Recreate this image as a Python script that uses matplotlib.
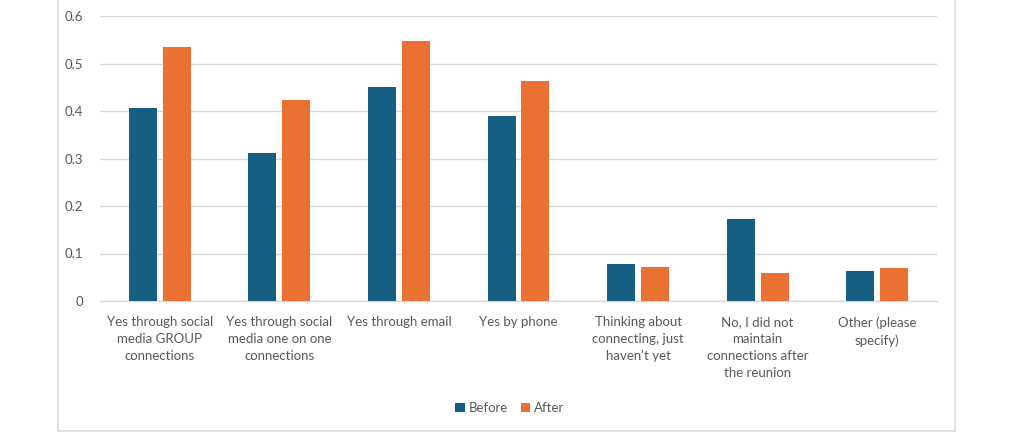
import matplotlib.pyplot as plt
from matplotlib.patches import Rectangle
import numpy as np

categories = [
    'Yes through social\nmedia GROUP\nconnections',
    'Yes through social\nmedia one on one\nconnections',
    'Yes through email',
    'Yes by phone',
    'Thinking about\nconnecting, just\nhaven\'t yet',
    'No, I did not\nmaintain\nconnections after\nthe reunion',
    'Other (please\nspecify)',
]
before = [0.407, 0.312, 0.451, 0.389, 0.078, 0.173, 0.063]
after = [0.535, 0.423, 0.547, 0.463, 0.072, 0.059, 0.069]
yticks = [0, 0.1, 0.2, 0.3, 0.4, 0.5, 0.6]

c_before = '#156082'
c_after = '#E97132'
txt = '#595959'
grid = '#D9D9D9'

plt.rcParams['font.family'] = ['Lato', 'DejaVu Sans']

fig = plt.figure(figsize=(10.24, 4.44), dpi=100)
# chart frame (top edge is off the picture)
fig.patches.append(Rectangle((58 / 1024, 1 - 431 / 444), (955 - 58) / 1024, 1.0,
                             transform=fig.transFigure, fill=False,
                             edgecolor=grid, linewidth=1.2, zorder=0))

ax = fig.add_axes([100 / 1024, 1 - 301 / 444, (937 - 100) / 1024, (301 - 16) / 444])

x = np.arange(len(categories))
w = 0.234
ax.bar(x - 0.142, before, w, color=c_before, label='Before', zorder=3)
ax.bar(x + 0.142, after, w, color=c_after, label='After', zorder=3)

ax.set_xlim(-0.5, len(categories) - 0.5)
ax.set_ylim(0, 0.6)
ax.set_yticks(yticks)
ax.set_yticklabels(['0' if v == 0 else f'{v:.1f}' for v in yticks])
ax.yaxis.grid(True, color=grid, linewidth=1)
ax.set_axisbelow(True)
for s in ['top', 'right', 'left']:
    ax.spines[s].set_visible(False)
ax.spines['bottom'].set_color(grid)
ax.spines['bottom'].set_linewidth(1)
ax.tick_params(axis='both', length=0, colors=txt, labelsize=9.5)
ax.tick_params(axis='y', pad=12)
ax.tick_params(axis='x', pad=11)
ax.set_xticks(x)
ax.set_xticklabels(categories, linespacing=1.5)

fig.legend(loc='center', bbox_to_anchor=(510 / 1024, 1 - 408 / 444), ncol=2,
           frameon=False, fontsize=9.5, labelcolor=txt, handlelength=0.7,
           handleheight=0.7, handletextpad=0.3, columnspacing=1.0)

fig.savefig('out.png', dpi=100, facecolor='white')
